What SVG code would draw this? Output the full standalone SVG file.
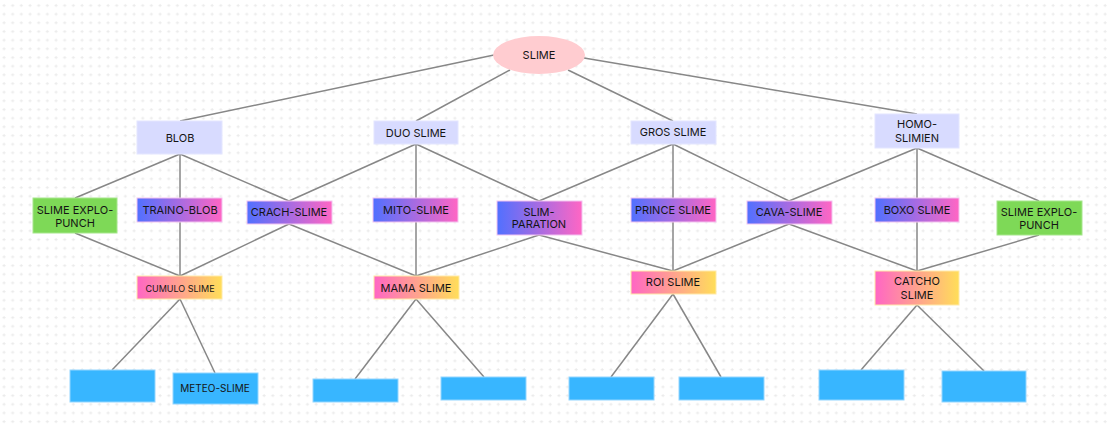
<svg xmlns="http://www.w3.org/2000/svg" width="1108" height="424" viewBox="0 0 1108 424">
<defs>
<pattern id="grid" x="0" y="2" width="8.67" height="8.67" patternUnits="userSpaceOnUse">
<path d="M4 2v3M2.5 3.5h3" stroke="#ebebeb" stroke-width="1"/>
</pattern>
<linearGradient id="bp" x1="0" y1="0" x2="1" y2="0"><stop offset="0" stop-color="#5170ff"/><stop offset="1" stop-color="#ff66c4"/></linearGradient>
<linearGradient id="py" x1="0" y1="0" x2="1" y2="0"><stop offset="0" stop-color="#ff66c4"/><stop offset="1" stop-color="#ffde59"/></linearGradient>
</defs>
<style>
text{font-family:Inter,"Liberation Sans",sans-serif;font-size:11px;fill:#141414;text-anchor:middle;dominant-baseline:central}
.lav{fill:#d8dbff;stroke:#e4e6ff;stroke-width:1}
.grn{fill:#7ed957;stroke:#a6e68c;stroke-width:1}
.bp{fill:url(#bp);stroke:#f3c4f0;stroke-width:1}
.py{fill:url(#py);stroke:#ffe9a8;stroke-width:1}
.blu{fill:#38b6ff;stroke:#93d6ff;stroke-width:1}
#connectors line{stroke:#878787;stroke-width:1.5}
</style>
<rect width="1108" height="424" fill="#ffffff"/>
<rect width="1108" height="424" fill="url(#grid)"/>
<g id="connectors">
<line x1="494" y1="55" x2="180" y2="121"/>
<line x1="510" y1="70" x2="416" y2="121"/>
<line x1="568" y1="70" x2="673" y2="121"/>
<line x1="584" y1="58" x2="917" y2="114"/>
<line x1="180" y1="154" x2="75" y2="198"/>
<line x1="180" y1="154" x2="180" y2="198"/>
<line x1="180" y1="154" x2="289" y2="201"/>
<line x1="416" y1="144" x2="289" y2="201"/>
<line x1="416" y1="144" x2="416" y2="198"/>
<line x1="416" y1="144" x2="539" y2="201"/>
<line x1="673" y1="144" x2="539" y2="201"/>
<line x1="673" y1="144" x2="673" y2="198"/>
<line x1="673" y1="144" x2="789" y2="201"/>
<line x1="917" y1="148" x2="789" y2="201"/>
<line x1="917" y1="148" x2="917" y2="198"/>
<line x1="917" y1="148" x2="1039" y2="201"/>
<line x1="75" y1="233" x2="180" y2="276"/>
<line x1="180" y1="222" x2="180" y2="276"/>
<line x1="289" y1="224" x2="180" y2="276"/>
<line x1="289" y1="224" x2="416" y2="276"/>
<line x1="416" y1="222" x2="416" y2="276"/>
<line x1="539" y1="235" x2="416" y2="276"/>
<line x1="539" y1="235" x2="673" y2="271"/>
<line x1="673" y1="222" x2="673" y2="271"/>
<line x1="789" y1="224" x2="673" y2="271"/>
<line x1="789" y1="224" x2="917" y2="271"/>
<line x1="917" y1="222" x2="917" y2="271"/>
<line x1="1039" y1="235" x2="917" y2="271"/>
<line x1="180" y1="299" x2="112" y2="370"/>
<line x1="180" y1="299" x2="215" y2="373"/>
<line x1="416" y1="299" x2="355" y2="379"/>
<line x1="416" y1="299" x2="484" y2="377"/>
<line x1="673" y1="294" x2="611" y2="377"/>
<line x1="673" y1="294" x2="721" y2="377"/>
<line x1="917" y1="305" x2="861" y2="370"/>
<line x1="917" y1="305" x2="984" y2="371"/>
</g>
<g id="slime"><ellipse cx="539" cy="55" rx="46" ry="19" fill="#ffccd0"/><text x="539" y="55">SLIME</text></g>
<g id="blob"><rect class="lav" x="137" y="121" width="85" height="33"/><text x="180" y="138">BLOB</text></g>
<g id="duo-slime"><rect class="lav" x="374" y="121" width="84" height="23"/><text x="416" y="133">DUO SLIME</text></g>
<g id="gros-slime"><rect class="lav" x="631" y="121" width="85" height="23"/><text x="673" y="132">GROS SLIME</text></g>
<g id="homo-slimien"><rect class="lav" x="875" y="114" width="84" height="34"/><text x="917" y="124">HOMO-</text><text x="917" y="138">SLIMIEN</text></g>
<g id="explo-left"><rect class="grn" x="33" y="198" width="84" height="35"/><text x="75" y="210">SLIME EXPLO-</text><text x="75" y="223">PUNCH</text></g>
<g id="traino-blob"><rect class="bp" x="137" y="198" width="85" height="24"/><text x="180" y="210">TRAINO-BLOB</text></g>
<g id="crach-slime"><rect class="bp" x="247" y="201" width="85" height="23"/><text x="289" y="212">CRACH-SLIME</text></g>
<g id="mito-slime"><rect class="bp" x="373" y="198" width="85" height="24"/><text x="416" y="210">MITO-SLIME</text></g>
<g id="slim-paration"><rect class="bp" x="497" y="201" width="85" height="34"/><text x="539" y="212">SLIM-</text><text x="539" y="224">PARATION</text></g>
<g id="prince-slime"><rect class="bp" x="631" y="198" width="85" height="24"/><text x="673" y="210">PRINCE SLIME</text></g>
<g id="cava-slime"><rect class="bp" x="747" y="201" width="85" height="23"/><text x="789" y="212">CAVA-SLIME</text></g>
<g id="boxo-slime"><rect class="bp" x="875" y="198" width="84" height="24"/><text x="917" y="210">BOXO SLIME</text></g>
<g id="explo-right"><rect class="grn" x="997" y="201" width="85" height="34"/><text x="1039" y="212">SLIME EXPLO-</text><text x="1039" y="225">PUNCH</text></g>
<g id="cumulo-slime"><rect class="py" x="137" y="276" width="85" height="23"/><text x="180" y="288" style="font-size:9px">CUMULO SLIME</text></g>
<g id="mama-slime"><rect class="py" x="374" y="276" width="85" height="23"/><text x="416" y="288">MAMA SLIME</text></g>
<g id="roi-slime"><rect class="py" x="631" y="271" width="85" height="23"/><text x="673" y="282">ROI SLIME</text></g>
<g id="catcho-slime"><rect class="py" x="875" y="271" width="84" height="34"/><text x="917" y="281">CATCHO</text><text x="917" y="295">SLIME</text></g>
<g id="box1"><rect class="blu" x="70" y="370" width="85" height="32"/></g>
<g id="meteo-slime"><rect class="blu" x="173" y="373" width="85" height="31"/><text x="215" y="388" style="font-size:10px">METEO-SLIME</text></g>
<g id="box3"><rect class="blu" x="313" y="379" width="85" height="23"/></g>
<g id="box4"><rect class="blu" x="441" y="377" width="85" height="23"/></g>
<g id="box5"><rect class="blu" x="569" y="377" width="85" height="23"/></g>
<g id="box6"><rect class="blu" x="679" y="377" width="85" height="23"/></g>
<g id="box7"><rect class="blu" x="819" y="370" width="85" height="30"/></g>
<g id="box8"><rect class="blu" x="942" y="371" width="84" height="31"/></g>
</svg>
